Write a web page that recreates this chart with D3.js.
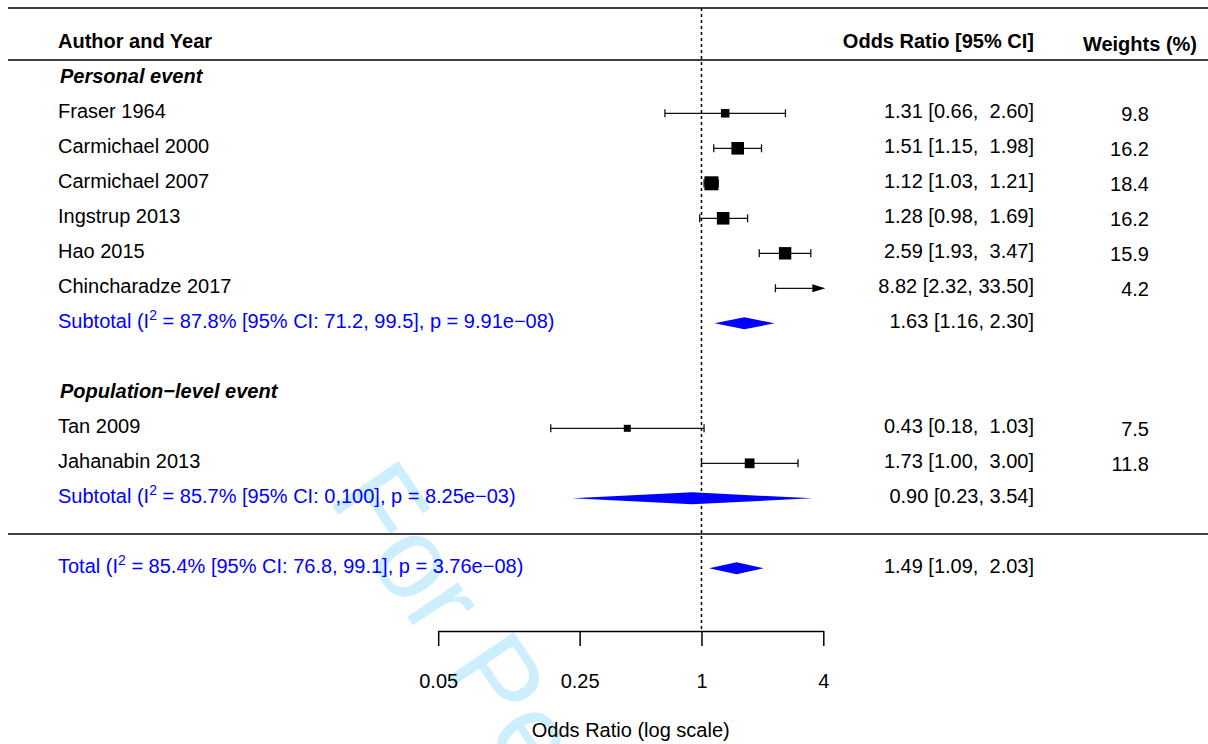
<!DOCTYPE html>
<html>
<head>
<meta charset="utf-8">
<script src="https://cdn.jsdelivr.net/npm/d3@7"></script>
<style>
  body { margin: 0; background: #fff; }
  svg { display: block; font-family: "Liberation Sans", Arial, Helvetica, sans-serif; }
  text { white-space: pre; }
</style>
</head>
<body>
<svg id="chart" width="1208" height="744"></svg>
<script>
// ---- data ----
const groupNames = ["Personal event", "Population\u2212level event"];
const groupSizes = [6, 2];
const studies = ["Fraser 1964", "Carmichael 2000", "Carmichael 2007", "Ingstrup 2013",
  "Hao 2015", "Chincharadze 2017", "Tan 2009", "Jahanabin 2013"];
const est = [1.31, 1.51, 1.12, 1.28, 2.59, 8.82, 0.43, 1.73];
const lower = [0.66, 1.15, 1.03, 0.98, 1.93, 2.32, 0.18, 1.00];
const upper = [2.60, 1.98, 1.21, 1.69, 3.47, 33.50, 1.03, 3.00];
const weights = [9.8, 16.2, 18.4, 16.2, 15.9, 4.2, 7.5, 11.8];

const subLabels = ["87.8%", "85.7%"];
const subCI = ["71.2, 99.5", "0,100"];
const subP = ["9.91e\u221208", "8.25e\u221203"];
const subEst = [1.63, 0.90];
const subLower = [1.16, 0.23];
const subUpper = [2.30, 3.54];

const totalI2 = "85.4%", totalCI = "76.8, 99.1", totalP = "3.76e\u221208";
const totalEst = 1.49, totalLower = 1.09, totalUpper = 2.03;

const ticks = [0.05, 0.25, 1, 4];

// ---- layout ----
const svg = d3.select("#chart");
const fs = 20;
const leftX = 58;
const orRight = 1034;
const wRight = 1149;
const blue = "#0000ff";

const x = d3.scaleLog().domain([0.05, 4]).range([438.2, 823.3]);
// row slot -> y
const row = d3.scaleLinear().domain([0, 1]).range([78.3, 113.3]);
const axisY = 631;

// watermark (behind everything)
svg.append("text")
  .attr("transform", "translate(327,498) rotate(56)")
  .attr("font-size", 116)
  .attr("fill", "#cdeefc")
  .text("For Peer Review");

// rules
[8, 60, 534].forEach((yy) => {
  svg.append("line")
    .attr("x1", 8).attr("x2", 1208)
    .attr("y1", yy).attr("y2", yy)
    .attr("stroke", "#000").attr("stroke-width", 1.6);
});

// reference line at OR = 1
svg.append("line")
  .attr("x1", x(1)).attr("x2", x(1))
  .attr("y1", 8).attr("y2", axisY)
  .attr("stroke", "#000").attr("stroke-width", 1.5)
  .attr("stroke-dasharray", "3,3");

// headers
svg.append("text").attr("x", leftX).attr("y", 48).attr("font-size", fs)
  .attr("font-weight", "bold").text("Author and Year");
svg.append("text").attr("x", orRight).attr("y", 48).attr("font-size", fs)
  .attr("font-weight", "bold").attr("text-anchor", "end").text("Odds Ratio [95% CI]");
svg.append("text").attr("x", 1197).attr("y", 51).attr("font-size", fs)
  .attr("font-weight", "bold").attr("text-anchor", "end").text("Weights (%)");

const size = d3.scaleLinear().domain([7.5, 18.4]).range([7, 14]);
const f2 = d3.format(".2f");
const pad = (v, n) => f2(v).padStart(n, " ");

function orText(e, l, u, padded) {
  return `${f2(e)} [${f2(l)}, ${padded ? pad(u, 5) : f2(u)}]`;
}

function hetLabel(g, yy, prefix, i2, ci, p) {
  const t = g.append("text").attr("x", leftX).attr("y", yy + 5)
    .attr("font-size", fs).attr("fill", blue);
  t.append("tspan").text(prefix + " (I");
  t.append("tspan").attr("dy", -8).attr("font-size", 14).text("2");
  t.append("tspan").attr("dy", 8).text(` = ${i2} [95% CI: ${ci}], p = ${p})`);
}

function diamond(g, yy, e, l, u) {
  const h = 6;
  g.append("path")
    .attr("d", `M${x(l)},${yy}L${x(e)},${yy - h}L${x(u)},${yy}L${x(e)},${yy + h}Z`)
    .attr("fill", blue);
}

const g = svg.append("g");
let slot = 0;
let k = 0;
groupNames.forEach((name, gi) => {
  g.append("text").attr("x", leftX + 2).attr("y", row(slot) + 5)
    .attr("font-size", fs).attr("font-weight", "bold").attr("font-style", "italic")
    .text(name);
  slot++;
  for (let j = 0; j < groupSizes[gi]; j++, k++, slot++) {
    const yy = row(slot);
    g.append("text").attr("x", leftX).attr("y", yy + 5).attr("font-size", fs).text(studies[k]);
    g.append("text").attr("x", orRight).attr("y", yy + 5).attr("font-size", fs)
      .attr("text-anchor", "end").text(orText(est[k], lower[k], upper[k], true));
    g.append("text").attr("x", wRight).attr("y", yy + 8).attr("font-size", fs)
      .attr("text-anchor", "end").text(weights[k].toFixed(1));

    const lo = Math.max(lower[k], x.domain()[0]);
    const hiClipped = upper[k] > x.domain()[1];
    const hiX = hiClipped ? x(x.domain()[1]) + 2 : x(upper[k]);
    const lineEnd = hiClipped ? hiX - 13 : hiX;
    g.append("line").attr("x1", x(lo)).attr("x2", lineEnd).attr("y1", yy).attr("y2", yy)
      .attr("stroke", "#111").attr("stroke-width", 1.3);
    g.append("line").attr("x1", x(lo)).attr("x2", x(lo)).attr("y1", yy - 4).attr("y2", yy + 4)
      .attr("stroke", "#111").attr("stroke-width", 1.3);
    if (hiClipped) {
      g.append("path").attr("d", `M${hiX - 13},${yy - 4}L${hiX},${yy}L${hiX - 13},${yy + 4}Z`)
        .attr("fill", "#000");
    } else {
      g.append("line").attr("x1", hiX).attr("x2", hiX).attr("y1", yy - 4).attr("y2", yy + 4)
        .attr("stroke", "#111").attr("stroke-width", 1.3);
    }
    if (est[k] <= x.domain()[1]) {
      const s = size(weights[k]);
      g.append("rect").attr("x", x(est[k]) - s / 2).attr("y", yy - s / 2)
        .attr("width", s).attr("height", s).attr("fill", "#000");
    }
  }
  const yy = row(slot);
  hetLabel(g, yy, "Subtotal", subLabels[gi], subCI[gi], subP[gi]);
  g.append("text").attr("x", orRight).attr("y", yy + 5).attr("font-size", fs)
    .attr("text-anchor", "end").text(orText(subEst[gi], subLower[gi], subUpper[gi], false));
  diamond(g, yy, subEst[gi], subLower[gi], subUpper[gi]);
  slot += 2;
});

// overall
const ty = row(slot);
hetLabel(g, ty, "Total", totalI2, totalCI, totalP);
g.append("text").attr("x", orRight).attr("y", ty + 5).attr("font-size", fs)
  .attr("text-anchor", "end").text(orText(totalEst, totalLower, totalUpper, true));
diamond(g, ty, totalEst, totalLower, totalUpper);

// x axis
const ax = svg.append("g")
  .attr("transform", `translate(0,${axisY})`)
  .call(d3.axisBottom(x).tickValues(ticks).tickFormat((d) => d).tickSize(15).tickSizeOuter(0));
ax.select(".domain").attr("stroke-width", 1.5);
ax.selectAll(".tick line").attr("stroke-width", 1.5);
ax.selectAll(".tick text").attr("y", 57).attr("dy", null)
  .attr("font-size", fs).attr("font-family", "Liberation Sans, Arial, sans-serif").attr("fill", "#000");

svg.append("text")
  .attr("x", (x.range()[0] + x.range()[1]) / 2).attr("y", 737)
  .attr("font-size", fs).attr("text-anchor", "middle")
  .text("Odds Ratio (log scale)");
</script>
</body>
</html>
